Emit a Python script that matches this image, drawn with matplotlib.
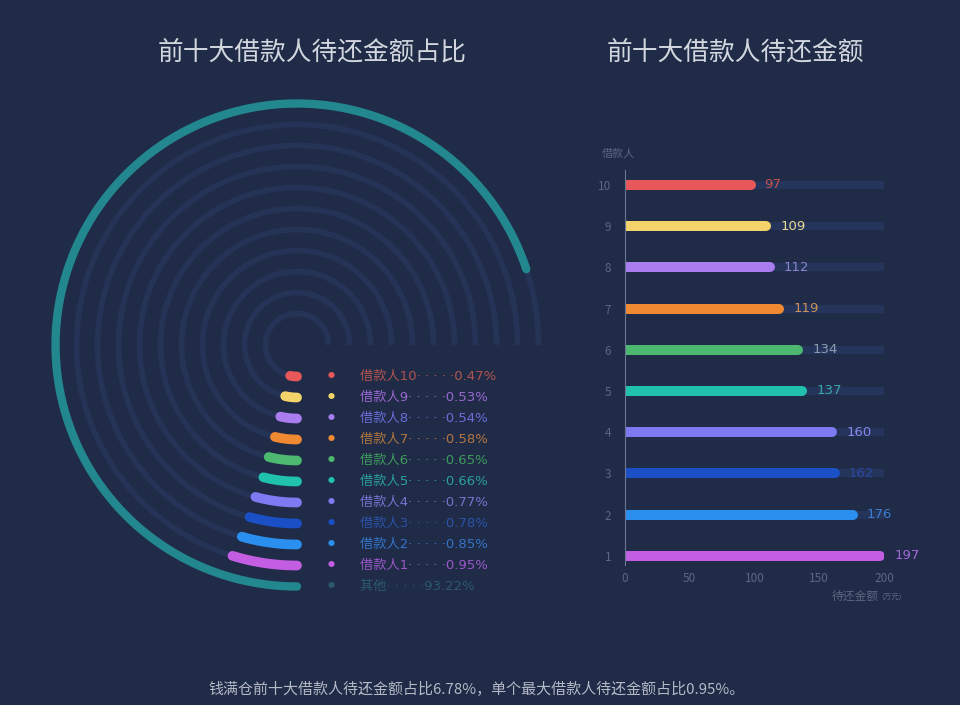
import numpy as np
import matplotlib
matplotlib.use('Agg')
import matplotlib.pyplot as plt

plt.rcParams['font.family'] = ['Noto Sans CJK SC', 'DejaVu Sans']

# data
borrowers = [1, 2, 3, 4, 5, 6, 7, 8, 9, 10]
amounts = [197, 176, 162, 160, 137, 134, 119, 112, 109, 97]          # 万元
shares = [0.95, 0.85, 0.78, 0.77, 0.66, 0.65, 0.58, 0.54, 0.53, 0.47]  # %
other_share = 93.22
amount_max = 200

bar_colors = ['#c35ee2', '#2b8ff0', '#1b4fc6', '#7d7af2', '#20c2ae',
              '#4cb870', '#f08a32', '#a97cf0', '#f4d46a', '#e8585a']
legend_colors = ['#9a58c8', '#3474c8', '#2c52a8', '#7474d0', '#2aa09a',
                 '#3e9a5c', '#b47640', '#6c6cd8', '#9868d0', '#b05450']
value_colors = ['#a466dc', '#3c7cd0', '#2a48a0', '#8a86e8', '#3aa8a4',
                '#8c9cb0', '#c8925a', '#8a84d0', '#e8d890', '#c8504c']
other_color = '#23878f'
other_text = '#2c5a6c'

bg = '#1f2b47'
track = '#25345a'
ring_track = '#243356'
grey = '#5c6782'
legend_font = ['DejaVu Sans', 'Noto Sans CJK SC']

fig = plt.figure(figsize=(9.6, 7.05), dpi=100, facecolor=bg)

# ---------- left: radial share chart ----------
ax = fig.add_axes([0.0469, 0.1532, 0.525, 0.7149], projection='polar')
ax.set_facecolor('none')
ax.set_theta_zero_location('S')
ax.set_theta_direction(-1)
ax.set_rlim(0, 12)
ax.axis('off')

full_sweep = 270.0  # 100% of the angle axis


def ring_r(i):
    return 1.5 + i


# background tracks
for i in range(11):
    th = np.radians(np.linspace(0, full_sweep, 300))
    ax.plot(th, np.full_like(th, ring_r(i)), color=ring_track, lw=4.2,
            solid_capstyle='butt', zorder=1)

# borrower arcs, innermost = borrower 10 (display scale widened so small shares stay visible)
for k, (b, s) in enumerate(zip(borrowers, shares)):
    i = 10 - b
    sweep = 8 + 9.5 * s
    th = np.radians(np.linspace(0, sweep, 60))
    ax.plot(th, np.full_like(th, ring_r(i)), color=bar_colors[k], lw=7,
            solid_capstyle='round', zorder=3)
    ax.annotate('●', xy=(0, ring_r(i)), xytext=(34, 0), textcoords='offset pixels',
                color=bar_colors[k], fontsize=5, ha='center', va='center')
    ax.annotate('借款人%d· · · · ·%.2f%%' % (b, s), xy=(0, ring_r(i)), xytext=(63, 0),
                textcoords='offset pixels', color=legend_colors[k], fontsize=9.5,
                family=legend_font, ha='left', va='center')

# other
th = np.radians(np.linspace(0, other_share / 100 * full_sweep, 400))
ax.plot(th, np.full_like(th, ring_r(10)), color=other_color, lw=6,
        solid_capstyle='round', zorder=3)
ax.annotate('●', xy=(0, ring_r(10)), xytext=(34, 0), textcoords='offset pixels',
            color=other_text, fontsize=5, ha='center', va='center')
ax.annotate('其他· · · · ·%.2f%%' % other_share, xy=(0, ring_r(10)), xytext=(63, 0),
            textcoords='offset pixels', color=other_text, fontsize=9.5,
            family=legend_font, ha='left', va='center')

# ---------- right: bar chart ----------
bx = fig.add_axes([0.651, 0.1986, 0.2698, 0.5603])
bx.set_facecolor('none')
bx.set_xlim(0, amount_max)
bx.set_ylim(0.78, 10.36)

for k, (b, v) in enumerate(zip(borrowers, amounts)):
    bx.plot([0, amount_max], [b, b], color=track, lw=6, solid_capstyle='round', zorder=1)
    bx.plot([0, v], [b, b], color=bar_colors[k], lw=7.2, solid_capstyle='round', zorder=2)
    bx.annotate(str(v), xy=(v, b), xytext=(14, 0), textcoords='offset pixels',
                color=value_colors[k], fontsize=9.5, family=legend_font,
                ha='left', va='center')

for s in ['top', 'right', 'bottom']:
    bx.spines[s].set_visible(False)
bx.spines['left'].set_color('#6a7694')
bx.spines['left'].set_linewidth(0.8)
bx.set_yticks(borrowers)
bx.set_yticklabels([str(b) for b in borrowers])
bx.set_xticks([0, 50, 100, 150, 200])
bx.tick_params(axis='y', length=0, pad=10, colors=grey, labelsize=8.5)
bx.tick_params(axis='x', length=0, pad=5, colors=grey, labelsize=8.5)
bx.text(-0.09, 1.04, '借款人', transform=bx.transAxes, color=grey, fontsize=8,
        ha='left', va='center')
bx.text(0.80, -0.08, '待还金额', transform=bx.transAxes, color=grey, fontsize=8.5,
        ha='left', va='center')
bx.text(0.99, -0.082, '(万元)', transform=bx.transAxes, color=grey, fontsize=5.5,
        ha='left', va='center')

# ---------- titles ----------
fig.text(312 / 960, 1 - 53 / 705, '前十大借款人待还金额占比', color='#d2d6de',
         fontsize=18.5, ha='center', va='center')
fig.text(735 / 960, 1 - 53 / 705, '前十大借款人待还金额', color='#d2d6de',
         fontsize=18.5, ha='center', va='center')
fig.text(477 / 960, 1 - 689 / 705,
         '钱满仓前十大借款人待还金额占比6.78%，单个最大借款人待还金额占比0.95%。',
         color='#b4b9c6', fontsize=10.8, ha='center', va='center')

fig.savefig('out.png', dpi=100, facecolor=bg)
